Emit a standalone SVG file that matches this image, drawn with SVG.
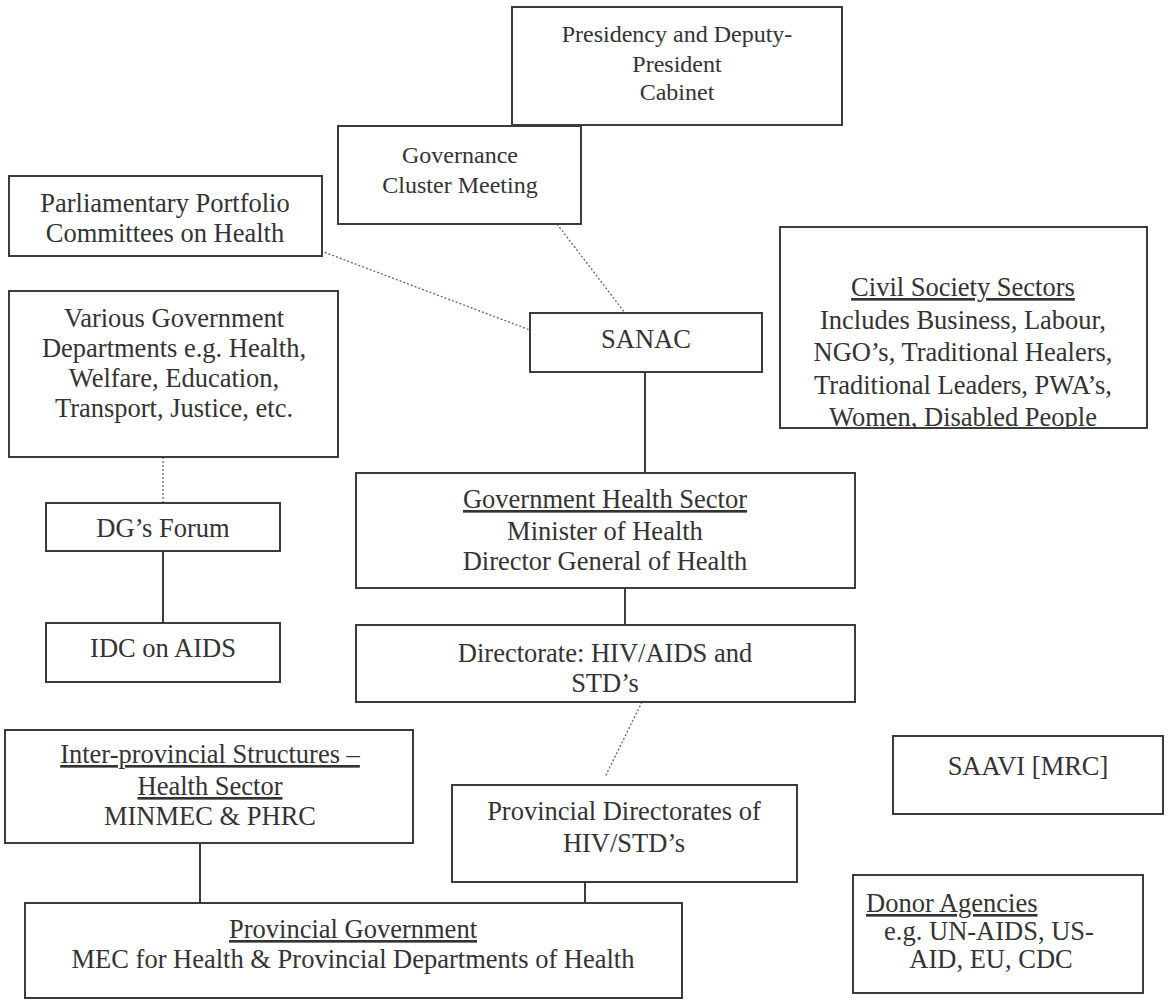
<svg xmlns="http://www.w3.org/2000/svg" width="1168" height="1005" viewBox="0 0 1168 1005">
<style>
.box{fill:#fff;stroke:#3c3c3c;stroke-width:2}
text{font-family:"Liberation Serif","Times New Roman",serif;font-size:26.5px;fill:#333;text-anchor:middle}
.s{font-size:24px}
.u{text-decoration:underline}
.st{text-anchor:start}
.solid{stroke:#3c3c3c;stroke-width:2;fill:none}
.dot{stroke:#666;stroke-width:1.3;stroke-dasharray:2 2;fill:none}
</style>
<defs>
<clipPath id="civclip"><rect x="781" y="228" width="365" height="199"/></clipPath>
</defs>
<rect width="1168" height="1005" fill="#fff"/>
<g id="connectors">
<line class="dot" x1="557" y1="224" x2="625" y2="313"/>
<line class="dot" x1="321" y1="251" x2="530" y2="330"/>
<line class="solid" x1="645" y1="372" x2="645" y2="473"/>
<line class="solid" x1="625" y1="588" x2="625" y2="625"/>
<line class="dot" x1="642" y1="702" x2="605" y2="777"/>
<line class="dot" x1="163" y1="457" x2="163" y2="503"/>
<line class="solid" x1="163" y1="551" x2="163" y2="623"/>
<line class="solid" x1="200" y1="843" x2="200" y2="903"/>
<line class="solid" x1="585" y1="882" x2="585" y2="903"/>
</g>
<g id="presidency">
<rect class="box" x="512" y="7" width="330" height="118"/>
<text class="s" x="677" y="42">Presidency and Deputy-</text>
<text class="s" x="677" y="72">President</text>
<text class="s" x="677" y="100">Cabinet</text>
</g>
<g id="governance">
<rect class="box" x="338" y="126" width="243" height="98"/>
<text class="s" x="460" y="163">Governance</text>
<text class="s" x="460" y="193">Cluster Meeting</text>
</g>
<g id="parliamentary">
<rect class="box" x="9" y="176" width="313" height="80"/>
<text x="165" y="212">Parliamentary Portfolio</text>
<text x="165" y="242">Committees on Health</text>
</g>
<g id="various">
<rect class="box" x="9" y="291" width="329" height="166"/>
<text x="174" y="327">Various Government</text>
<text x="174" y="357">Departments e.g. Health,</text>
<text x="174" y="387">Welfare, Education,</text>
<text x="174" y="417">Transport, Justice, etc.</text>
</g>
<g id="sanac">
<rect class="box" x="530" y="313" width="232" height="59"/>
<text x="646" y="348">SANAC</text>
</g>
<g id="civil-society">
<rect class="box" x="780" y="227" width="367" height="201"/>
<g clip-path="url(#civclip)">
<text class="u" x="963" y="296">Civil Society Sectors</text>
<text x="963" y="329">Includes Business, Labour,</text>
<text x="963" y="361">NGO’s, Traditional Healers,</text>
<text x="963" y="394">Traditional Leaders, PWA’s,</text>
<text x="963" y="426">Women, Disabled People</text>
</g>
</g>
<g id="dgs-forum">
<rect class="box" x="46" y="503" width="234" height="48"/>
<text x="163" y="537">DG’s Forum</text>
</g>
<g id="idc">
<rect class="box" x="46" y="623" width="234" height="59"/>
<text x="163" y="657">IDC on AIDS</text>
</g>
<g id="gov-health">
<rect class="box" x="356" y="473" width="499" height="115"/>
<text class="u" x="605" y="508">Government Health Sector</text>
<text x="605" y="540">Minister of Health</text>
<text x="605" y="570">Director General of Health</text>
</g>
<g id="directorate">
<rect class="box" x="356" y="625" width="499" height="77"/>
<text x="605" y="662">Directorate: HIV/AIDS and</text>
<text x="605" y="692">STD’s</text>
</g>
<g id="inter-provincial">
<rect class="box" x="5" y="730" width="408" height="113"/>
<text class="u" x="210" y="763">Inter-provincial Structures –</text>
<text class="u" x="210" y="795">Health Sector</text>
<text x="210" y="825">MINMEC &amp; PHRC</text>
</g>
<g id="provincial-directorates">
<rect class="box" x="452" y="785" width="345" height="97"/>
<text x="624" y="820">Provincial Directorates of</text>
<text x="624" y="852">HIV/STD’s</text>
</g>
<g id="provincial-government">
<rect class="box" x="25" y="903" width="657" height="95"/>
<text class="u" x="353" y="938">Provincial Government</text>
<text x="353" y="968">MEC for Health &amp; Provincial Departments of Health</text>
</g>
<g id="saavi">
<rect class="box" x="893" y="736" width="270" height="78"/>
<text x="1028" y="775">SAAVI [MRC]</text>
</g>
<g id="donor">
<rect class="box" x="853" y="875" width="290" height="118"/>
<text class="u st" x="866" y="912">Donor Agencies</text>
<text x="989" y="940">e.g. UN-AIDS, US-</text>
<text x="991" y="968">AID, EU, CDC</text>
</g>
</svg>
